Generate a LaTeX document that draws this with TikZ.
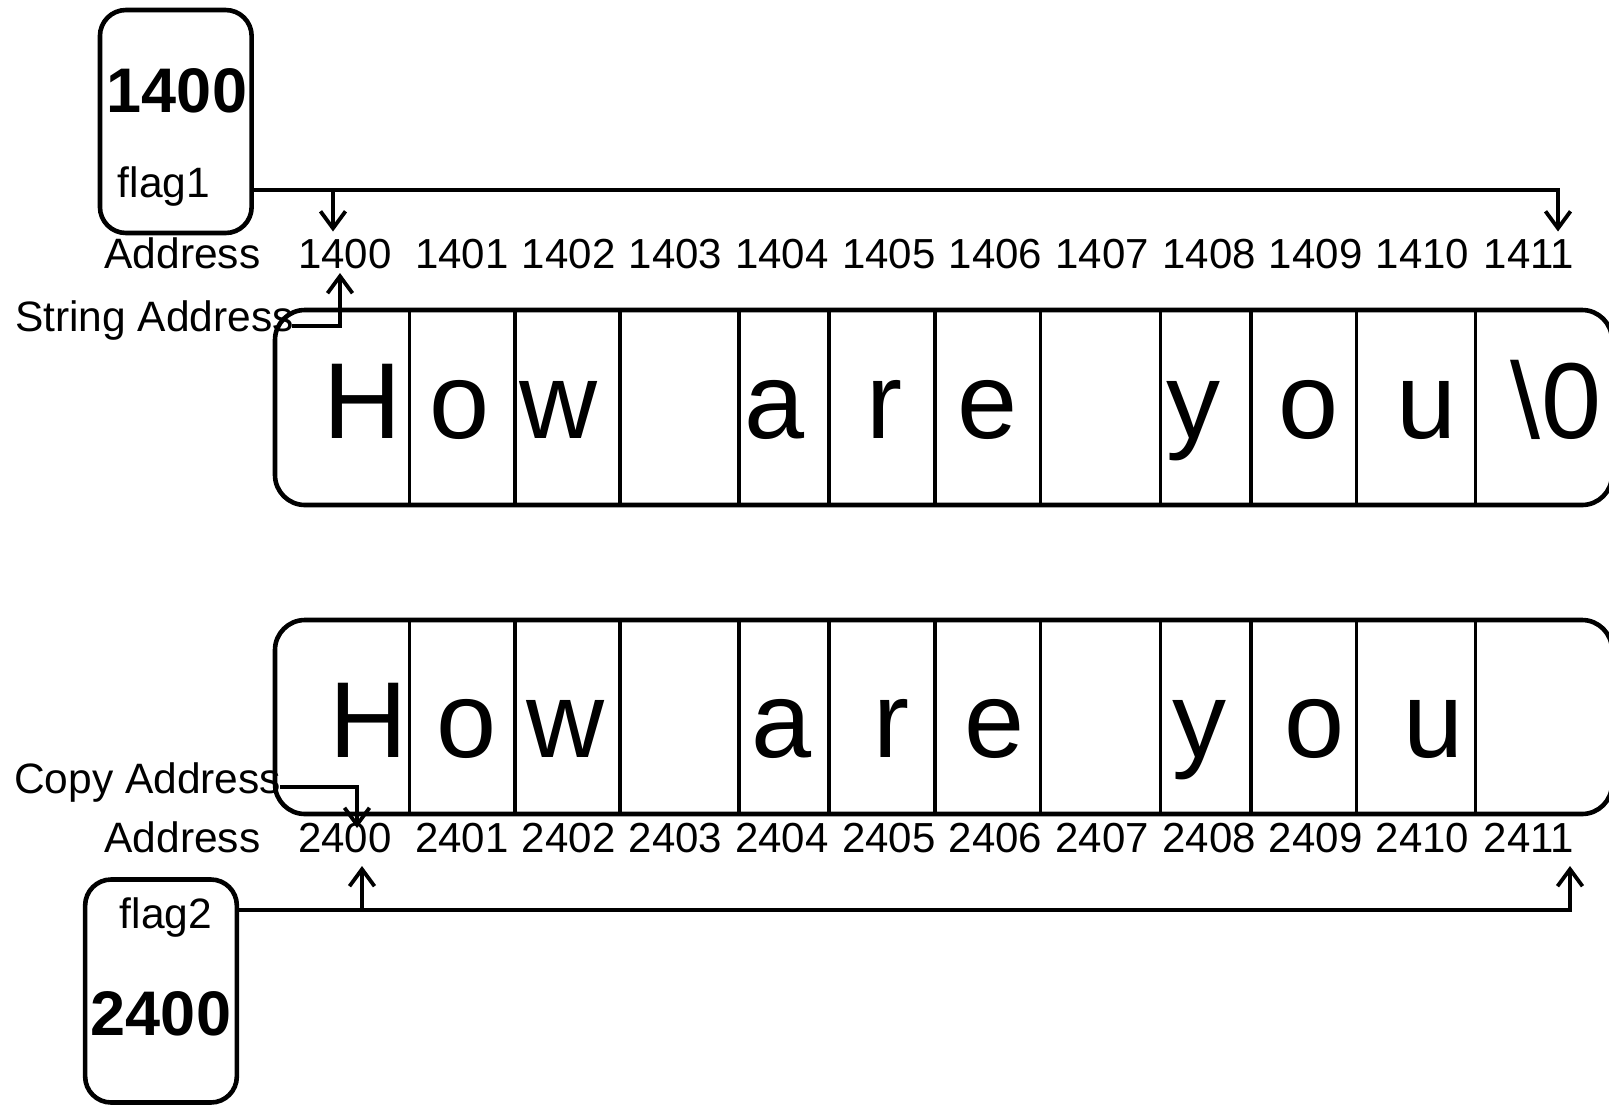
\documentclass[tikz,border=0pt]{standalone}
\usepackage{fontspec}
\setmainfont{Liberation Sans}
\usetikzlibrary{arrows.meta}
\begin{document}
\begin{tikzpicture}[x=1pt,y=-1pt,
  fbox/.style={draw, line width=4.6pt, rounded corners=26pt, minimum width=151.7pt, minimum height=223pt, inner sep=0pt},
  sbox/.style={draw, line width=4.6pt, rounded corners=30pt, minimum width=1337pt, minimum height=195pt, inner sep=0pt},
  divider/.style={line width=3.8pt},
  conn/.style={line width=3.8pt, -{Straight Barb[length=17pt,width=25pt,line width=3.8pt]}},
  letter/.style={font=\fontsize{108pt}{120pt}\selectfont, anchor=base, inner sep=0pt},
  sm/.style={font=\fontsize{42.5pt}{50pt}\selectfont, inner sep=0pt},
  num/.style={font=\fontsize{42pt}{50pt}\selectfont, inner sep=0pt, anchor=base},
  big/.style={font=\fontsize{63pt}{70pt}\selectfont\bfseries, anchor=base, inner sep=0pt}
]
\useasboundingbox (0,0) rectangle (1609,1104);
\clip (0,0) rectangle (1609,1104);

% flag boxes
\node[fbox] (flag1) at (175.8,121.5) {};
\node[big] (v1400) at (177,112) {1400};
\node[sm, anchor=base] (flag1lbl) at (164,197) {flag1};

\node[fbox] (flag2) at (161,991) {};
\node[sm, anchor=base] (flag2lbl) at (166,928) {flag2};
\node[big] (v2400) at (161,1035) {2400};

% top string
\node[sbox] (str1) at (943.5,407.5) {};
\foreach \x in {409.4,515.1,619.8,738.8,829.1,934.8,1040.5,1160.5,1250.8,1356.5,1475.5}
  \draw[divider] (\x,310) -- (\x,505);
\node[letter] (s1c0) at (362,438) {H};
\node[letter] (s1c1) at (460,438) {o};
\node[letter] (s1c2) at (558,438) {w};
\node[letter] (s1c4) at (775,438) {a};
\node[letter] (s1c5) at (884,438) {r};
\node[letter] (s1c6) at (988,438) {e};
\node[letter] (s1c8) at (1193,438) {y};
\node[letter] (s1c9) at (1309,438) {o};
\node[letter] (s1c10) at (1427,438) {u};
\node[letter] (s1c11) at (1556,438) {\textbackslash 0};

% bottom string
\node[sbox, minimum height=194pt] (str2) at (943.5,717) {};
\foreach \x in {409.4,515.1,619.8,738.8,829.1,934.8,1040.5,1160.5,1250.8,1356.5,1475.5}
  \draw[divider] (\x,620) -- (\x,814);
\node[letter] (s2c0) at (368,757) {H};
\node[letter] (s2c1) at (466.5,757) {o};
\node[letter] (s2c2) at (565,757) {w};
\node[letter] (s2c4) at (782,757) {a};
\node[letter] (s2c5) at (891,757) {r};
\node[letter] (s2c6) at (995,757) {e};
\node[letter] (s2c8) at (1199,757) {y};
\node[letter] (s2c9) at (1315,757) {o};
\node[letter] (s2c10) at (1434,757) {u};

% address rows
\node[sm, anchor=base] (addr1) at (182.5,268) {Address};
\node[sm, anchor=base] (addr2) at (182.5,852) {Address};
\foreach \i/\x in {0/345,1/462,2/568.7,3/675.4,4/782,5/888.8,6/995.5,7/1102.2,8/1209,9/1315.7,10/1422.4,11/1529}{
  \pgfmathtruncatemacro{\na}{1400+\i}
  \pgfmathtruncatemacro{\nb}{2400+\i}
  \node[num] (t\i) at (\x,268) {\na};
  \node[num] (b\i) at (\x,852) {\nb};
}

% labels
\node[sm, anchor=base west] (strlbl) at (15,331.5) {String Address};
\node[sm, anchor=base west] (copylbl) at (14,793) {Copy Address};

% arrow end coordinates
\coordinate (tip1400) at (333,231.5);
\coordinate (tip1411) at (1558,231.5);
\coordinate (br1) at (tip1400 |- 0,190);
\coordinate (tip1400b) at (340,273);
\coordinate (tip2400a) at (357,828);
\coordinate (tip2400b) at (362,866);
\coordinate (tip2411) at (1570,866);
\coordinate (br2) at (tip2400b |- 0,910);

% connectors
\draw[conn] ([yshift=-68.5pt]flag1.east) -| (tip1411);
\draw[conn] (br1) -- (tip1400);
\draw[conn] ([xshift=-2pt,yshift=5.5pt]strlbl.base east) -| (tip1400b);
\draw[conn] ([xshift=-1pt,yshift=6pt]copylbl.base east) -| (tip2400a);
\draw[conn] ([yshift=81pt]flag2.east) -| (tip2411);
\draw[conn] (br2) -- (tip2400b);
\end{tikzpicture}
\end{document}
